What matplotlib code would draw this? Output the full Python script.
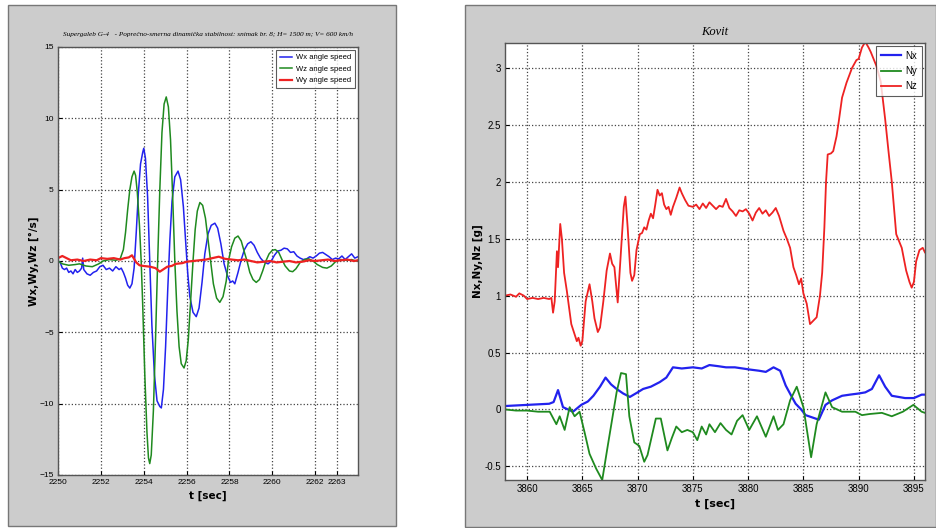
import matplotlib
matplotlib.use('Agg')
import matplotlib.pyplot as plt
from matplotlib.patches import Rectangle

# ---- left chart: angular speeds ----
wz_t = [2250.0, 2250.2, 2250.5, 2250.8, 2251.0, 2251.3, 2251.6, 2251.9, 2252.1, 2252.4,
        2252.7, 2252.9, 2253.05, 2253.15, 2253.25, 2253.35, 2253.45, 2253.55, 2253.62, 2253.7,
        2253.8, 2253.88, 2253.95, 2254.05, 2254.15, 2254.22, 2254.28, 2254.35, 2254.45, 2254.55,
        2254.65, 2254.75, 2254.85, 2254.95, 2255.05, 2255.15, 2255.25, 2255.35, 2255.45, 2255.55,
        2255.65, 2255.75, 2255.88, 2255.98, 2256.08, 2256.2, 2256.3, 2256.4, 2256.5, 2256.62,
        2256.75, 2256.88, 2257.0, 2257.12, 2257.25, 2257.4, 2257.55, 2257.7, 2257.85, 2257.95,
        2258.1, 2258.25, 2258.4, 2258.55, 2258.7, 2258.82, 2258.95, 2259.1, 2259.25, 2259.4,
        2259.55, 2259.7, 2259.85, 2260.0, 2260.14, 2260.3, 2260.45, 2260.6, 2260.8, 2260.95,
        2261.1, 2261.3, 2261.5, 2261.7, 2261.9, 2262.1, 2262.35, 2262.55, 2262.75, 2262.95,
        2263.2, 2263.45, 2263.7, 2263.9, 2264.0]
wz = [0.0, -0.2, -0.3, -0.25, -0.2, -0.35, -0.4, -0.2, 0.0, 0.1,
      0.05, 0.15, 0.8, 2.0, 3.6, 5.0, 5.9, 6.3, 6.0, 4.8,
      2.5, 0.0, -3.0, -8.0, -12.0, -13.8, -14.2, -13.6, -10.5, -5.5,
      0.0, 5.0, 9.0, 11.0, 11.5, 10.8, 8.5, 4.5, 0.0, -3.5,
      -6.0, -7.2, -7.5, -7.0, -5.5, -2.5, 0.0, 2.2, 3.5, 4.1,
      3.9, 3.0, 1.5, 0.0, -1.6, -2.6, -2.9, -2.5, -1.4, 0.0,
      1.0, 1.6, 1.75, 1.4, 0.6, 0.0, -0.8, -1.3, -1.5, -1.3,
      -0.7, 0.0, 0.5, 0.75, 0.8, 0.6, 0.1, -0.35, -0.7, -0.75,
      -0.55, -0.1, 0.1, 0.15, 0.0, -0.25, -0.45, -0.5, -0.35, -0.05,
      0.1, 0.05, 0.1, 0.0, 0.05]

wx_t = [2250.0, 2250.1, 2250.2, 2250.3, 2250.4, 2250.5, 2250.6, 2250.7, 2250.8, 2250.9,
        2251.0, 2251.1, 2251.15, 2251.2, 2251.35, 2251.5, 2251.65, 2251.8, 2251.95, 2252.1,
        2252.25, 2252.4, 2252.55, 2252.7, 2252.85, 2252.95, 2253.05, 2253.15, 2253.25, 2253.35,
        2253.45, 2253.55, 2253.65, 2253.75, 2253.85, 2253.95, 2254.0, 2254.08, 2254.18, 2254.28,
        2254.38, 2254.5, 2254.62, 2254.75, 2254.82, 2254.92, 2255.02, 2255.12, 2255.22, 2255.32,
        2255.45, 2255.6, 2255.72, 2255.85, 2255.95, 2256.05, 2256.15, 2256.3, 2256.45, 2256.58,
        2256.72, 2256.85, 2257.0, 2257.15, 2257.32, 2257.45, 2257.6, 2257.75, 2257.9, 2258.05,
        2258.15, 2258.25, 2258.4, 2258.55, 2258.7, 2258.85, 2259.0, 2259.15, 2259.3, 2259.45,
        2259.6, 2259.8, 2259.95, 2260.1, 2260.25, 2260.4, 2260.55, 2260.7, 2260.85, 2261.0,
        2261.15, 2261.3, 2261.45, 2261.6, 2261.75, 2261.9, 2262.05, 2262.2, 2262.35, 2262.5,
        2262.65, 2262.8, 2262.95, 2263.1, 2263.25, 2263.4, 2263.55, 2263.7, 2263.85, 2264.0]
wx = [0.0, -0.1, -0.5, -0.6, -0.5, -0.8, -0.7, -0.9, -0.6, -0.8,
      -0.7, -0.5, 0.2, -0.6, -0.9, -1.0, -0.8, -0.7, -0.4, -0.3,
      -0.6, -0.5, -0.7, -0.4, -0.6, -0.5, -0.8, -1.2, -1.7, -1.9,
      -1.6, -0.5, 2.0, 4.8, 6.8, 7.6, 7.9, 7.2, 4.5, 0.0,
      -4.5, -8.0, -9.8, -10.2, -10.3, -9.0, -6.0, -2.0, 1.5, 4.2,
      5.9, 6.3, 5.7, 3.8, 1.5, -0.8, -2.5, -3.6, -3.9, -3.3,
      -1.5, 0.5, 1.9, 2.5, 2.65, 2.3, 1.2, -0.2, -1.0, -1.5,
      -1.4, -1.6, -0.8, 0.1, 0.8, 1.2, 1.35, 1.1, 0.6, 0.2,
      -0.05, -0.2, 0.0, 0.4, 0.7, 0.75, 0.9, 0.85, 0.6, 0.65,
      0.35, 0.2, 0.1, 0.15, 0.3, 0.2, 0.35, 0.55, 0.6, 0.45,
      0.3, 0.1, 0.2, 0.15, 0.35, 0.1, 0.3, 0.5, 0.2, 0.3]

wy_t = [2250.0, 2250.2, 2250.4, 2250.6, 2250.9, 2251.2, 2251.5, 2251.8, 2252.0, 2252.3,
        2252.6, 2252.9, 2253.1, 2253.3, 2253.45, 2253.55, 2253.65, 2253.8, 2254.0, 2254.3,
        2254.55, 2254.75, 2254.9, 2255.1, 2255.3, 2255.5, 2255.8, 2256.0, 2256.3, 2256.6,
        2256.9, 2257.2, 2257.5, 2257.8, 2258.1, 2258.4, 2258.7, 2259.0, 2259.3, 2259.6,
        2259.9, 2260.2, 2260.5, 2260.8, 2261.1, 2261.4, 2261.7, 2262.0, 2262.3, 2262.6,
        2262.9, 2263.2, 2263.5, 2263.8, 2264.0]
wy = [0.2, 0.35, 0.2, 0.05, 0.1, 0.0, 0.1, 0.05, 0.2, 0.15,
      0.2, 0.1, 0.2, 0.25, 0.4, 0.15, -0.1, -0.3, -0.35, -0.4,
      -0.5, -0.75, -0.6, -0.4, -0.35, -0.2, -0.15, -0.05, 0.0, 0.05,
      0.1, 0.2, 0.3, 0.15, 0.1, 0.05, 0.1, 0.0, -0.1, -0.05,
      0.0, -0.1, -0.05, 0.0, -0.1, -0.05, 0.05, 0.0, 0.05, 0.1,
      0.0, 0.05, 0.1, 0.0, 0.05]

left_xticks = [2250, 2252, 2254, 2256, 2258, 2260, 2262, 2263]
left_yticks = [-15, -10, -5, 0, 5, 10, 15]

# ---- right chart: load factors ----
nz_t = [3858.0, 3858.5, 3859.0, 3859.3, 3859.7, 3860.0, 3860.5, 3861.0, 3861.5, 3862.0,
        3862.2, 3862.35, 3862.5, 3862.7, 3862.8, 3863.0, 3863.15, 3863.35, 3863.6, 3864.0,
        3864.3, 3864.5, 3864.65, 3864.85, 3865.0, 3865.3, 3865.65, 3865.9, 3866.1, 3866.4,
        3866.6, 3866.9, 3867.2, 3867.5, 3867.7, 3867.9, 3868.2, 3868.5, 3868.75, 3868.9,
        3869.1, 3869.35, 3869.5, 3869.7, 3869.9, 3870.2, 3870.4, 3870.6, 3870.8, 3871.0,
        3871.2, 3871.4, 3871.6, 3871.8, 3872.0, 3872.2, 3872.4, 3872.6, 3872.8, 3873.0,
        3873.2, 3873.5, 3873.8, 3874.0, 3874.3, 3874.6, 3875.0, 3875.3, 3875.6, 3875.9,
        3876.2, 3876.5, 3876.8, 3877.1, 3877.4, 3877.7, 3878.0, 3878.3, 3878.6, 3878.9,
        3879.2, 3879.5, 3879.8, 3880.1, 3880.4, 3880.7, 3881.0, 3881.3, 3881.6, 3881.9,
        3882.2, 3882.5, 3882.8, 3883.2, 3883.5, 3883.8, 3884.1, 3884.35, 3884.6, 3884.8,
        3885.0, 3885.3, 3885.6, 3885.9, 3886.2, 3886.5, 3886.7, 3886.9, 3887.05, 3887.2,
        3887.5, 3887.7, 3888.0, 3888.2, 3888.5, 3888.9, 3889.4, 3889.8, 3890.0, 3890.3,
        3890.6, 3890.9, 3891.1, 3891.6, 3892.0, 3892.4, 3892.7, 3893.0, 3893.4, 3893.9,
        3894.3, 3894.6, 3894.8, 3895.0, 3895.2, 3895.5, 3895.8, 3896.0]
nz = [1.0, 1.01, 0.99, 1.02, 1.0, 0.97, 0.98, 0.97, 0.98, 0.97,
      0.98, 0.85, 0.95, 1.39, 1.25, 1.63, 1.5, 1.2, 1.04, 0.75,
      0.66, 0.6, 0.63, 0.56, 0.6, 0.95, 1.1, 0.95, 0.8, 0.68,
      0.72, 0.95, 1.22, 1.37, 1.28, 1.25, 0.94, 1.4, 1.78, 1.87,
      1.6, 1.2, 1.13, 1.18, 1.4, 1.54, 1.55, 1.6, 1.58, 1.66,
      1.72, 1.68, 1.8, 1.93, 1.88, 1.9, 1.8, 1.76, 1.78, 1.71,
      1.78, 1.86, 1.95, 1.9, 1.84, 1.79, 1.78, 1.8, 1.76, 1.81,
      1.77, 1.82, 1.79, 1.76, 1.79, 1.78, 1.85, 1.77, 1.74, 1.7,
      1.75, 1.74, 1.76, 1.72, 1.66, 1.73, 1.77, 1.72, 1.75, 1.7,
      1.73, 1.77, 1.7, 1.57, 1.5, 1.42, 1.25, 1.18, 1.1, 1.15,
      1.02, 0.93, 0.75, 0.78, 0.81, 1.0, 1.2, 1.6, 2.0, 2.24,
      2.25, 2.27, 2.4, 2.53, 2.74, 2.87, 3.0, 3.07, 3.08, 3.18,
      3.23, 3.18, 3.14, 3.02, 2.88, 2.55, 2.27, 2.0, 1.54, 1.42,
      1.22, 1.12, 1.07, 1.12, 1.3, 1.4, 1.42, 1.38]

nx_t = [3858.0, 3859.0, 3860.0, 3861.0, 3862.0, 3862.4, 3862.8, 3863.25, 3863.7, 3864.15,
        3864.9, 3865.5, 3866.0, 3866.6, 3867.1, 3867.6, 3868.1, 3868.7, 3869.3, 3870.0,
        3870.5, 3871.2, 3872.0, 3872.6, 3873.2, 3874.0, 3875.0, 3875.8, 3876.5, 3877.3,
        3878.0, 3878.8, 3879.5, 3880.2, 3881.0, 3881.6, 3882.3, 3882.9, 3883.4, 3883.9,
        3884.3, 3884.8, 3885.2, 3885.8, 3886.4, 3887.0, 3887.6, 3888.5, 3889.2, 3890.0,
        3890.6, 3891.2, 3891.85, 3892.4, 3893.0, 3893.6, 3894.2, 3895.0, 3895.7, 3896.0]
nx = [0.03, 0.035, 0.04, 0.045, 0.05, 0.065, 0.17, 0.02, 0.0, -0.02,
      0.04, 0.07, 0.12, 0.2, 0.28, 0.22, 0.18, 0.14, 0.11, 0.15,
      0.18, 0.2, 0.24, 0.28, 0.37, 0.36, 0.37, 0.36, 0.39, 0.38,
      0.37, 0.37, 0.36, 0.35, 0.34, 0.33, 0.37, 0.34, 0.21, 0.12,
      0.05, 0.0, -0.05, -0.07, -0.09, 0.04, 0.08, 0.12, 0.13, 0.14,
      0.15, 0.18, 0.30, 0.2, 0.12, 0.11, 0.10, 0.1, 0.13, 0.13]

ny_t = [3858.0, 3859.0, 3860.0, 3861.0, 3862.05, 3862.65, 3862.95, 3863.4, 3863.85, 3864.3,
        3864.75, 3865.2, 3865.65, 3866.25, 3866.8, 3867.3, 3868.1, 3868.5, 3868.95, 3869.25,
        3869.7, 3870.15, 3870.6, 3870.9, 3871.65, 3872.1, 3872.7, 3873.1, 3873.5, 3874.0,
        3874.5, 3875.0, 3875.4, 3875.8, 3876.2, 3876.5, 3877.0, 3877.5, 3878.0, 3878.5,
        3879.0, 3879.5, 3880.1, 3880.8, 3881.2, 3881.6, 3882.3, 3882.7, 3883.2, 3883.8,
        3884.4, 3885.0, 3885.7, 3886.2, 3887.0, 3887.6, 3888.5, 3889.7, 3890.3, 3891.0,
        3892.1, 3893.0, 3894.0, 3894.95, 3895.7, 3896.0]
ny = [0.0, -0.01, -0.01, -0.02, -0.02, -0.13, -0.06, -0.18, 0.02, -0.06,
      -0.02, -0.2, -0.39, -0.52, -0.62, -0.32, 0.15, 0.32, 0.31, -0.06,
      -0.29, -0.32, -0.46, -0.4, -0.08, -0.08, -0.36, -0.25, -0.15, -0.2,
      -0.18, -0.2, -0.27, -0.15, -0.22, -0.13, -0.2, -0.12, -0.18, -0.22,
      -0.1, -0.05, -0.18, -0.06, -0.15, -0.24, -0.06, -0.18, -0.13, 0.08,
      0.2, 0.02, -0.42, -0.13, 0.15, 0.02, -0.02, -0.02, -0.05, -0.04,
      -0.03, -0.06, -0.02, 0.04, -0.02, -0.03]

right_xticks = [3860, 3865, 3870, 3875, 3880, 3885, 3890, 3895]
right_yticks = [-0.5, 0, 0.5, 1, 1.5, 2, 2.5, 3]
right_ylabels = ['-0.5', '0', '0.5', '1', '1.5', '2', '2.5', '3']

panel_gray = '#cccccc'
tick_font = ['Liberation Sans', 'DejaVu Sans']


def style_axes(ax, size=6.5):
    ax.grid(True, linestyle=':', color='#444444', linewidth=0.9)
    ax.tick_params(direction='in', length=3, labelsize=size, pad=3)
    for lab in ax.get_xticklabels() + ax.get_yticklabels():
        lab.set_family(tick_font)
    for s in ax.spines.values():
        s.set_color('#555555')
        s.set_linewidth(1.0)


fig = plt.figure(figsize=(9.36, 5.28), dpi=100)
fig.patch.set_facecolor('white')

# gray "figure window" panels behind each chart
fig.patches.append(Rectangle((0.0085, 0.004), 0.4145, 0.987, transform=fig.transFigure,
                             facecolor=panel_gray, edgecolor='#777777', linewidth=1.0, zorder=-5))
fig.patches.append(Rectangle((0.4968, 0.002), 0.503, 0.989, transform=fig.transFigure,
                             facecolor=panel_gray, edgecolor='#777777', linewidth=1.0, zorder=-5))

# left chart
ax1 = fig.add_axes([0.062, 0.1004, 0.3205, 0.8106])
ax1.plot(wx_t, wx, color='#2222ee', lw=1.1, label='Wx angle speed')
ax1.plot(wz_t, wz, color='#1f8a1f', lw=1.1, label='Wz angle speed')
ax1.plot(wy_t, wy, color='#ee2222', lw=1.6, label='Wy angle speed')
ax1.set_xlim(2250, 2264)
ax1.set_ylim(-15, 15)
ax1.set_xticks(left_xticks)
ax1.set_yticks(left_yticks)
ax1.set_xlabel('t [sec]', fontsize=7.5, fontweight='bold', labelpad=3)
ax1.set_ylabel('Wx,Wy,Wz [°/s]', fontsize=7.5, fontweight='bold', labelpad=0)
ax1.set_title('Supergaleb G-4   - Poprečno-smerna dinamička stabilnost: snimak br. 8; H= 1500 m; V= 600 km/h',
              fontsize=5.2, style='italic', family='Liberation Serif', pad=8)
style_axes(ax1, size=6)
leg1 = ax1.legend(loc='upper right', frameon=True, fancybox=False,
                  handlelength=1.6, handletextpad=0.5, borderpad=0.5, labelspacing=0.55,
                  borderaxespad=0.4, prop={'family': tick_font, 'size': 5.5})
leg1.get_frame().set_edgecolor('#333333')
leg1.get_frame().set_linewidth(0.8)

# right chart
ax2 = fig.add_axes([0.5395, 0.0909, 0.4487, 0.8277])
ax2.plot(nx_t, nx, color='#2222ee', lw=1.6, label='Nx')
ax2.plot(ny_t, ny, color='#1f8a1f', lw=1.3, label='Ny')
ax2.plot(nz_t, nz, color='#ee2222', lw=1.3, label='Nz')
ax2.set_xlim(3858, 3896)
ax2.set_ylim(-0.62, 3.22)
ax2.set_xticks(right_xticks)
ax2.set_yticks(right_yticks)
ax2.set_yticklabels(right_ylabels)
ax2.set_xlabel('t [sec]', fontsize=8, fontweight='bold', labelpad=3)
ax2.set_ylabel('Nx,Ny,Nz [g]', fontsize=7.5, fontweight='bold', labelpad=1)
ax2.set_title('Kovit', fontsize=9, style='italic', family='Liberation Serif', pad=6)
style_axes(ax2, size=7)
leg2 = ax2.legend(loc='upper right', frameon=True, fancybox=False,
                  handlelength=2.0, handletextpad=0.5, borderpad=0.5, labelspacing=0.55,
                  borderaxespad=0.3, prop={'family': tick_font, 'size': 7})
leg2.get_frame().set_edgecolor('#333333')
leg2.get_frame().set_linewidth(0.8)

fig.savefig('out.png', dpi=100)
